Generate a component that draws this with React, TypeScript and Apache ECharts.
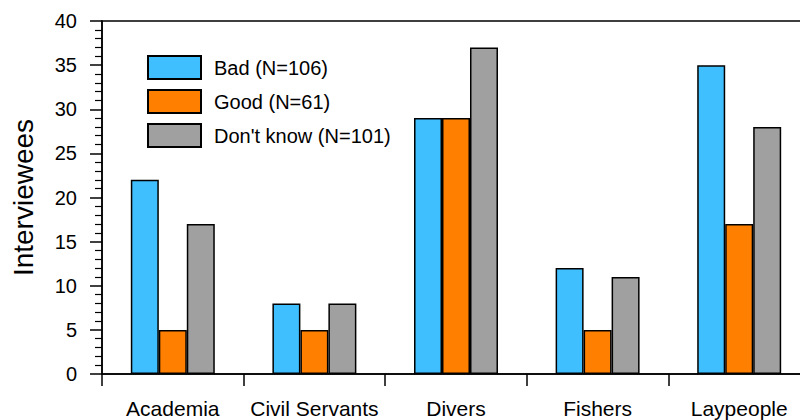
import React, { useEffect, useRef } from "react";
import * as echarts from "echarts";

const categories = ["Academia", "Civil Servants", "Divers", "Fishers", "Laypeople"];
const seriesNames = ["Bad (N=106)", "Good (N=61)", "Don't know (N=101)"];
const badValues = [22, 8, 29, 12, 35];
const goodValues = [5, 5, 29, 5, 17];
const dontKnowValues = [17, 8, 37, 11, 28];
const colors = ["#40BFFF", "#FF8000", "#A0A0A0"];
const yTicks = { min: 0, max: 40, interval: 5 };

const FONT = "'Liberation Sans', Arial, Helvetica, sans-serif";

export default function App() {
  const ref = useRef<HTMLDivElement>(null);
  useEffect(() => {
    if (!ref.current) return;
    const chart = echarts.init(ref.current, null, { renderer: "svg" });
    const data = [badValues, goodValues, dontKnowValues];
    chart.setOption({
      animation: false,
      backgroundColor: "#ffffff",
      textStyle: { fontFamily: FONT, color: "#000" },
      grid: {
        left: 102,
        right: 10,
        top: 21,
        bottom: 46,
        show: true,
        borderColor: "#000",
        borderWidth: 1.5,
        backgroundColor: "transparent",
      },
      legend: {
        orient: "vertical",
        left: 142,
        top: 50,
        itemWidth: 53,
        itemHeight: 23,
        itemGap: 9,
        icon: "rect",
        textStyle: { fontSize: 20, fontFamily: FONT, color: "#000", padding: [0, 0, 0, 8] },
        data: seriesNames,
      },
      xAxis: {
        type: "category",
        data: categories,
        axisLine: { lineStyle: { color: "#000", width: 1.5 } },
        axisTick: { show: true, length: 12, alignWithLabel: false, lineStyle: { color: "#000", width: 1.5 } },
        axisLabel: { fontSize: 21, fontFamily: FONT, color: "#000", margin: 24, interval: 0 },
      },
      yAxis: {
        type: "value",
        min: yTicks.min,
        max: yTicks.max,
        interval: yTicks.interval,
        name: "Interviewees",
        nameLocation: "middle",
        nameGap: 65,
        nameTextStyle: { fontSize: 28, fontFamily: FONT, color: "#000" },
        axisLine: { show: true, lineStyle: { color: "#000", width: 1.5 } },
        axisTick: { show: true, length: 12, lineStyle: { color: "#000", width: 1.5 } },
        minorTick: { show: true, splitNumber: 5, length: 7, lineStyle: { color: "#000", width: 1.2 } },
        splitLine: { show: false },
        axisLabel: { fontSize: 20, fontFamily: FONT, color: "#000", margin: 25 },
      },
      series: seriesNames.map((name, i) => ({
        name,
        type: "bar",
        data: data[i],
        barGap: "0%",
        barCategoryGap: "40.7%",
        itemStyle: { color: colors[i], borderColor: "#000", borderWidth: 1.5 },
      })),
    });
    return () => chart.dispose();
  }, []);
  return (
    <div style={{ position: "fixed", left: 0, top: 0, width: 800, height: 420, overflow: "hidden", background: "#fff" }}>
      <div ref={ref} style={{ width: 820, height: 420 }} />
    </div>
  );
}
